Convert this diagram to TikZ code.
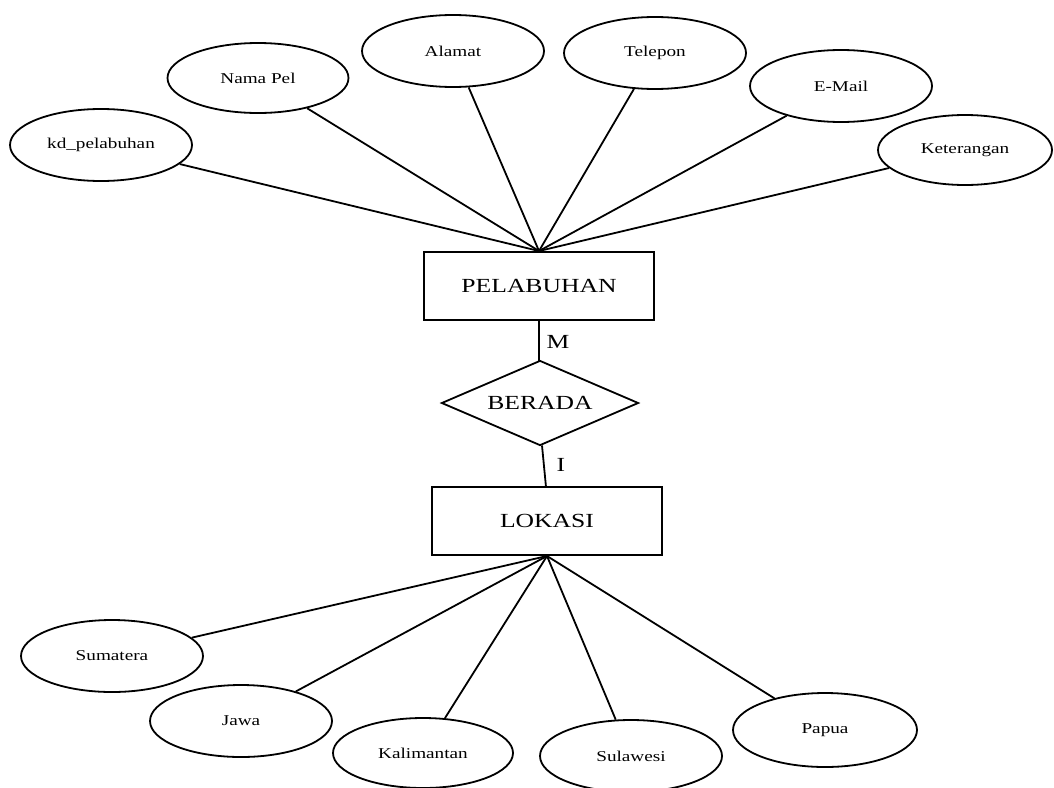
\documentclass[tikz,border=0pt]{standalone}
\usepackage{fontspec}
\setmainfont{Liberation Serif}
\newfontfamily\erfont[FakeStretch=1.28]{Liberation Serif}
\usetikzlibrary{shapes.geometric}
\begin{document}
\begin{tikzpicture}[x=1pt,y=-1pt,
  line width=1.8pt,
  attr/.style={draw, ellipse, inner sep=0pt, minimum width=182pt, minimum height=72pt,
    font=\erfont\fontsize{15}{17}\selectfont},
  entity/.style={draw, rectangle, inner sep=0pt, minimum width=230pt, minimum height=68pt,
    font=\erfont\fontsize{20}{23}\selectfont},
  relation/.style={draw, diamond, inner sep=0pt, aspect=2.3, minimum width=197pt, minimum height=85pt,
    font=\erfont\fontsize{20}{23}\selectfont},
  card/.style={font=\erfont\fontsize{20}{23}\selectfont, inner sep=0pt},
  link/.style={draw, line width=1.8pt}]
\useasboundingbox[fill=white] (0,0) rectangle (1054,787);

% entities and relationship
\node[entity] (pel) at (539,286) {PELABUHAN};
\node[relation] (berada) at (540,403) {BERADA};
\node[entity] (lok) at (547,521) {LOKASI};

% connection points on the entity boxes
\coordinate (ptop) at (539,251);
\coordinate (pbot) at (539,320);
\coordinate (btop) at (539,360.5);
\coordinate (bbot) at (542,445.5);
\coordinate (ltop) at (546,487);
\coordinate (lbot) at (547,556);

% attributes of PELABUHAN
\node[attr] (kd) at (101,145) {kd\_pelabuhan};
\node[attr, minimum width=181pt, minimum height=70pt] (nama) at (258,78) {Nama Pel};
\node[attr] (alamat) at (453,51) {Alamat};
\node[attr] (telp) at (655,53) {Telepon};
\node[attr] (email) at (841,86) {E-Mail};
\node[attr, minimum width=174pt, minimum height=70pt] (ket) at (965,150) {Keterangan};

% attributes of LOKASI
\node[attr] (sum) at (112,656) {Sumatera};
\node[attr] (jawa) at (241,721) {Jawa};
\node[attr, minimum width=180pt, minimum height=70pt] (kal) at (423,753) {Kalimantan};
\node[attr] (sul) at (631,756) {Sulawesi};
\node[attr, minimum width=184pt, minimum height=74pt] (pap) at (825,730) {Papua};

% attribute links
\foreach \a in {kd,nama,alamat,telp,email,ket}
  \draw[link] (\a) -- (ptop);
\foreach \a in {sum,jawa,kal,sul,pap}
  \draw[link] (\a) -- (lbot);

% relationship links with cardinalities
\draw[link] (pbot) -- (btop);
\draw[link] (bbot) -- (ltop);
\node[card] (m) at (558,342) {M};
\node[card] (one) at (561,465) {I};
\end{tikzpicture}
\end{document}
